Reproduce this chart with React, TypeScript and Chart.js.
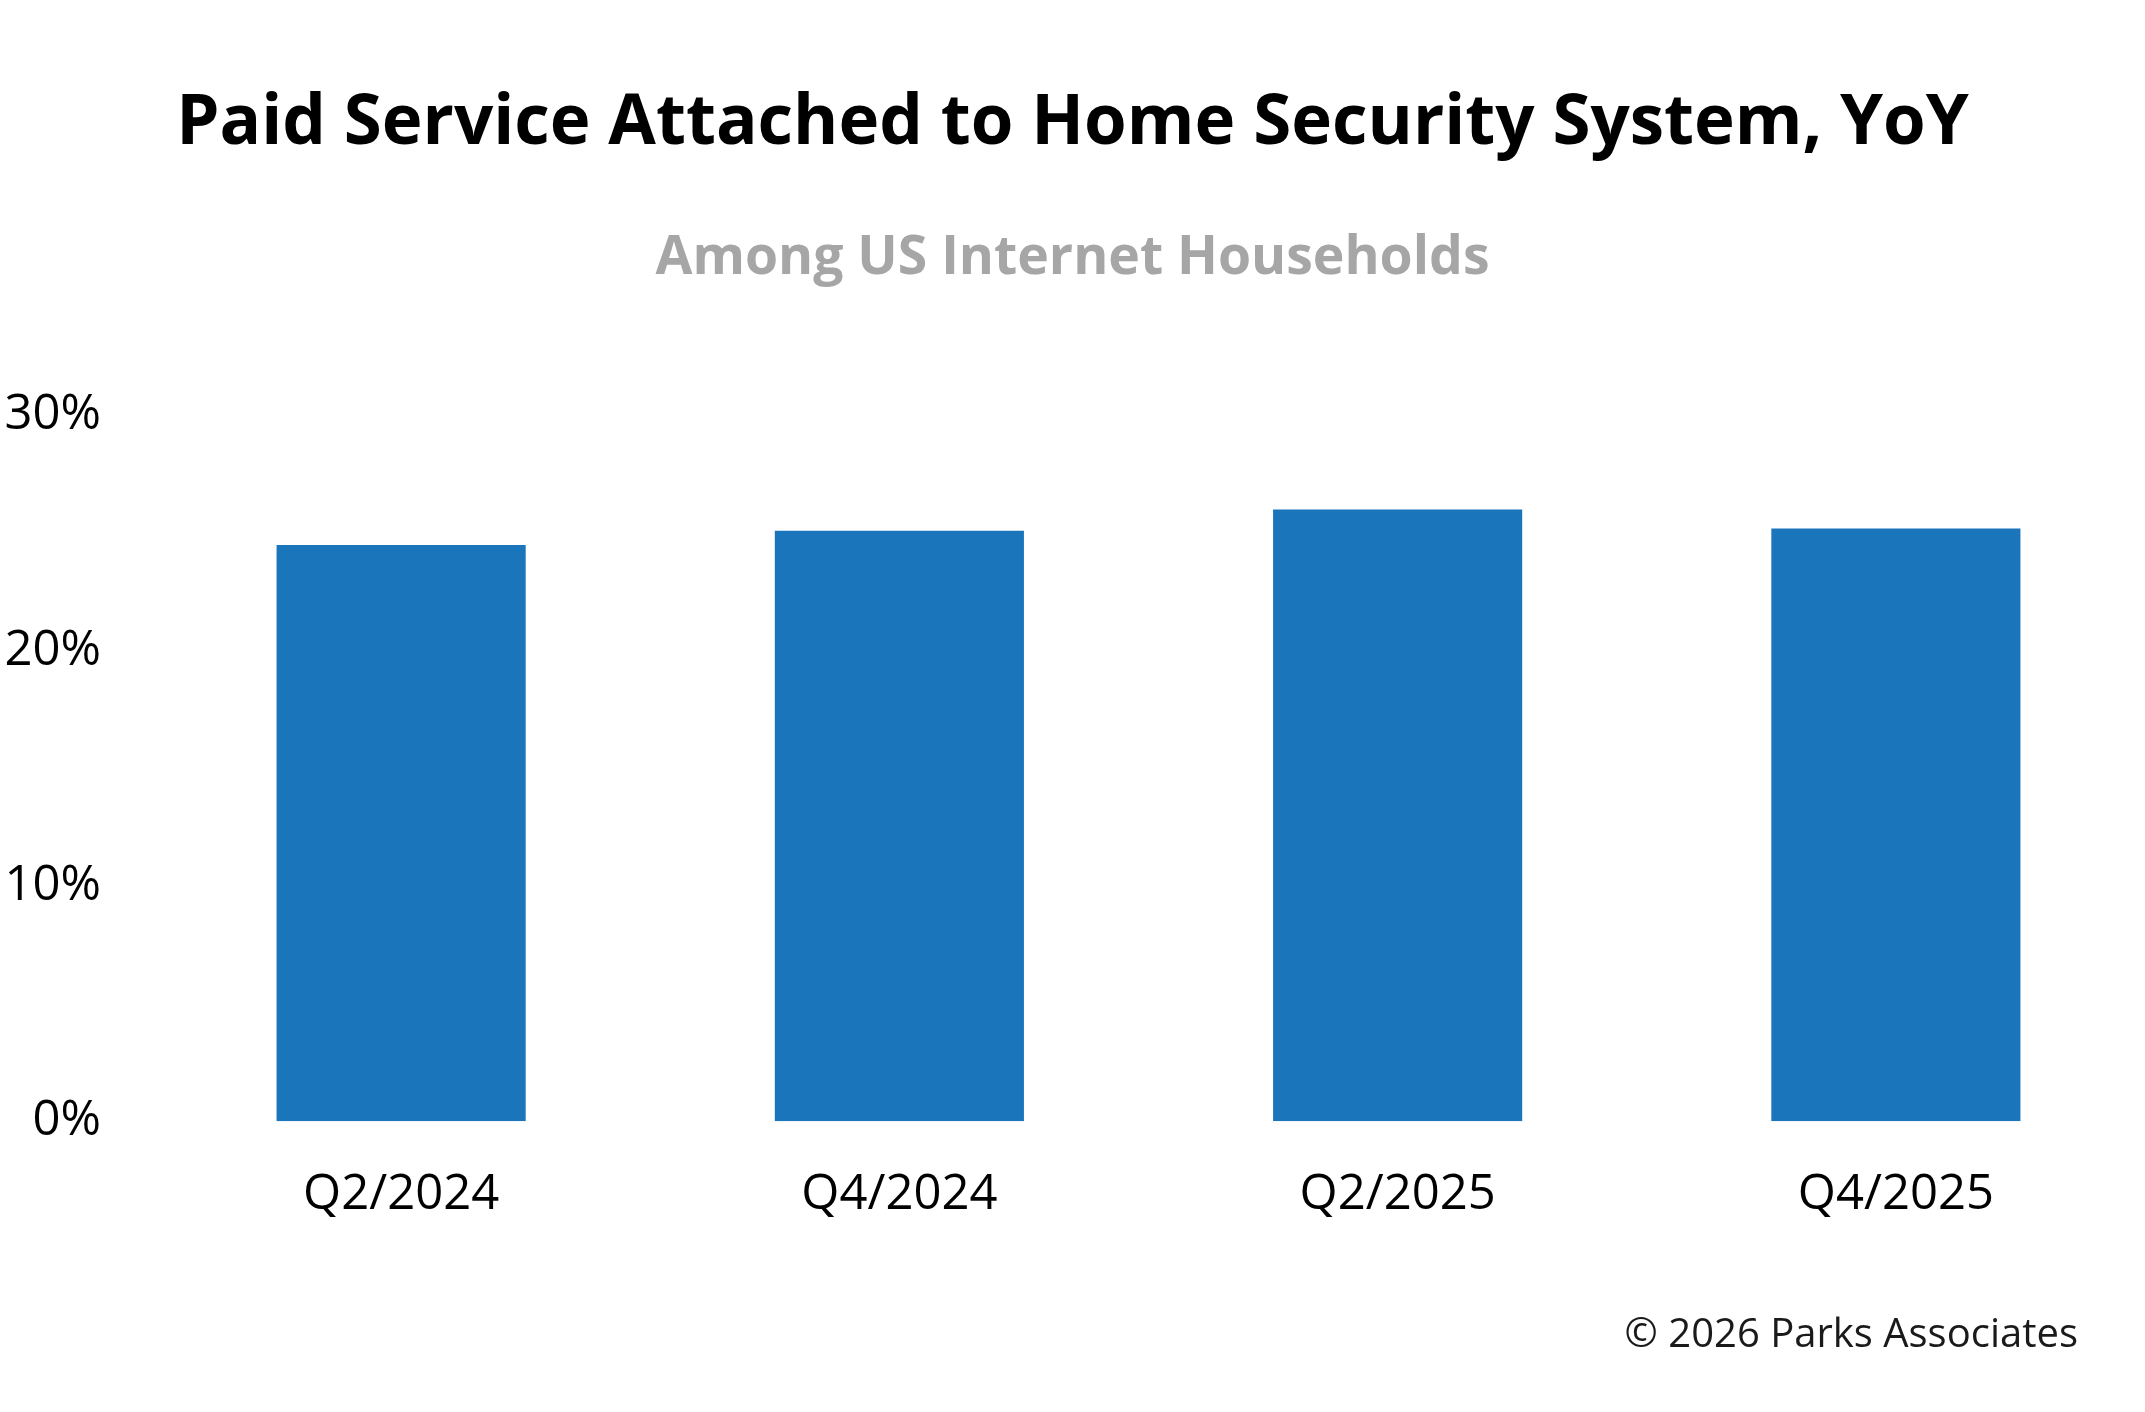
import React, { useEffect, useRef } from "react";
import { Chart, registerables } from "chart.js";

Chart.register(...registerables);

const categories = ["Q2/2024", "Q4/2024", "Q2/2025", "Q4/2025"];
const attachRate = [24.5, 25.1, 26.0, 25.2];
const yTicks = [0, 10, 20, 30];

const TITLE = "Paid Service Attached to Home Security System, YoY";
const SUBTITLE = "Among US Internet Households";
const COPYRIGHT = "\u00A9 2026 Parks Associates";

const FONT = "'Open Sans', 'Noto Sans', sans-serif";

const copyrightPlugin = {
  id: "copyrightNote",
  afterDraw(chart: any) {
    const ctx = chart.ctx;
    ctx.save();
    ctx.font = `40px ${FONT}`;
    ctx.fillStyle = "#1a1a1a";
    ctx.textAlign = "right";
    ctx.textBaseline = "middle";
    ctx.fillText(COPYRIGHT, 2078, 1336);
    ctx.restore();
  },
};

export default function App() {
  const ref = useRef<HTMLCanvasElement | null>(null);

  useEffect(() => {
    document.body.style.margin = "0";
    if (!ref.current) return;
    const chart = new Chart(ref.current, {
      type: "bar",
      data: {
        labels: categories,
        datasets: [
          {
            label: "Paid service attached",
            data: attachRate,
            backgroundColor: "#1B75BB",
            borderWidth: 0,
            categoryPercentage: 1,
            barPercentage: 0.5,
          },
        ],
      },
      options: {
        animation: false,
        responsive: false,
        devicePixelRatio: 1,
        layout: { padding: { left: 0, right: 0, top: 0, bottom: 144 } },
        plugins: {
          legend: { display: false },
          tooltip: { enabled: false },
          title: {
            display: true,
            text: TITLE,
            color: "#000000",
            font: { family: FONT, size: 69, weight: "bold", lineHeight: 1.2 },
            padding: { top: 83, bottom: 0 },
          },
          subtitle: {
            display: true,
            text: SUBTITLE,
            color: "#A6A6A6",
            font: { family: FONT, size: 53.5, weight: "bold", lineHeight: 1.2 },
            padding: { top: 60.5, bottom: 125 },
          },
        },
        scales: {
          x: {
            grid: { display: false, drawTicks: false },
            border: { display: false },
            ticks: {
              color: "#000000",
              font: { family: FONT, size: 49 },
              padding: 44,
              maxRotation: 0,
            },
          },
          y: {
            min: 0,
            max: 30,
            afterBuildTicks: (axis: any) => {
              axis.ticks = yTicks.map((v) => ({ value: v }));
            },
            afterFit: (axis: any) => {
              axis.width = 152;
            },
            grid: { display: false, drawTicks: false },
            border: { display: false },
            ticks: {
              color: "#000000",
              font: { family: FONT, size: 49 },
              padding: 51,
              callback: (v: any) => `${v}%`,
            },
          },
        },
      },
      plugins: [copyrightPlugin],
    });
    return () => chart.destroy();
  }, []);

  return (
    <div style={{ position: "absolute", left: 0, top: 0, width: 2145, height: 1412, background: "#ffffff" }}>
      <canvas ref={ref} width={2145} height={1412} />
    </div>
  );
}
